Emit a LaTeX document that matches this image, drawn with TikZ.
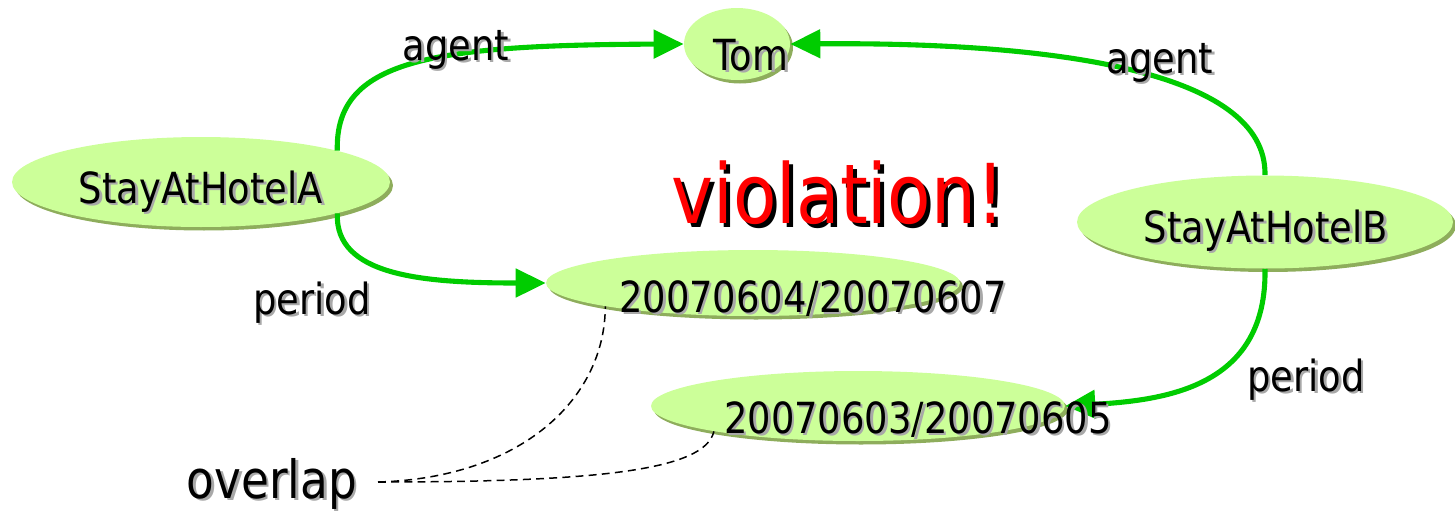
\documentclass[tikz,border=0pt]{standalone}
\usepackage{fontspec}
\setmainfont{DejaVu Sans}[FakeStretch=0.86]
\usetikzlibrary{arrows.meta,shapes.geometric,shadows}

\definecolor{nodefill}{HTML}{CCFF99}
\definecolor{nodeshadow}{HTML}{8EAD5C}
\definecolor{linkgreen}{HTML}{00CC00}
\definecolor{txtshadow}{HTML}{A8A8A8}
\definecolor{alertred}{HTML}{FF0000}

% text with a soft drop shadow: name, x, y, style, text
\newcommand\shtext[5]{%
  \node[#4, text=txtshadow] (#1-s) at (#2+2.5,#3+2.5) {#5};
  \node[#4] (#1) at (#2,#3) {#5};}

\begin{document}
\begin{tikzpicture}[x=0.02cm,y=-0.02cm,
  concept/.style={ellipse, fill=nodefill, draw=none, inner sep=0pt,
    general shadow={shadow xshift=0.06cm, shadow yshift=-0.07cm, fill=nodeshadow}},
  lbl/.style={anchor=base, inner sep=0pt, font=\fontsize{24.4}{28}\selectfont},
  biglbl/.style={anchor=base, inner sep=0pt, font=\fontsize{30}{34}\selectfont},
  link/.style={draw=linkgreen, line width=2.9pt, -{Triangle[length=0.6cm,width=0.56cm]}},
  note/.style={draw=black, line width=0.85pt, dash pattern=on 4.5pt off 3pt}]

\useasboundingbox (0,0) rectangle (1455,512);

% concepts
\node[concept, minimum width=2.12cm, minimum height=1.44cm] (tom) at (737,44) {};
\node[concept, minimum width=7.56cm, minimum height=1.80cm] (hotelA) at (201,182) {};
\node[concept, minimum width=7.52cm, minimum height=1.86cm] (hotelB) at (1265,222) {};
\node[concept, minimum width=8.28cm, minimum height=1.32cm] (perA) at (753,283) {};
\node[concept, minimum width=8.28cm, minimum height=1.40cm] (perB) at (858,406) {};

% relations
\draw[link] (hotelA.13) .. controls (335,60) and (430,45) .. (tom.west);
\draw[link] (hotelB.north) .. controls (1267,70) and (1050,42) .. (tom.east);
\draw[link] (hotelA.-13) .. controls (335,275) and (420,283) .. (perA.west);
\draw[link] (hotelB.south) .. controls (1267,385) and (1170,400) .. (perB.east);

% overlap annotation
\coordinate (ovl) at (378,482);
\draw[note] (ovl) .. controls (520,478) and (605,400) .. (perA.189);
\draw[note] (ovl) .. controls (600,482) and (705,470) .. (perB.190);

% labels
\shtext{tomtxt}{751}{70}{lbl}{Tom}
\shtext{atxt}{201}{203}{lbl}{StayAtHotelA}
\shtext{btxt}{1266}{242}{lbl}{StayAtHotelB}
\shtext{patxt}{813}{312}{lbl}{20070604/20070607}
\shtext{pbtxt}{918}{433}{lbl}{20070603/20070605}
\shtext{agentA}{456}{60}{lbl}{agent}
\shtext{agentB}{1160}{73}{lbl}{agent}
\shtext{periodA}{312}{314}{lbl}{period}
\shtext{periodB}{1306}{391}{lbl}{period}
\shtext{ovtxt}{272}{498}{biglbl}{overlap}

% violation marker
\node[anchor=base, inner sep=0pt, font=\fontsize{47}{52}\selectfont, text=black] (viol-s) at (842,227) {violation!};
\node[anchor=base, inner sep=0pt, font=\fontsize{47}{52}\selectfont, text=alertred] (viol) at (838,223) {violation!};
\end{tikzpicture}
\end{document}
